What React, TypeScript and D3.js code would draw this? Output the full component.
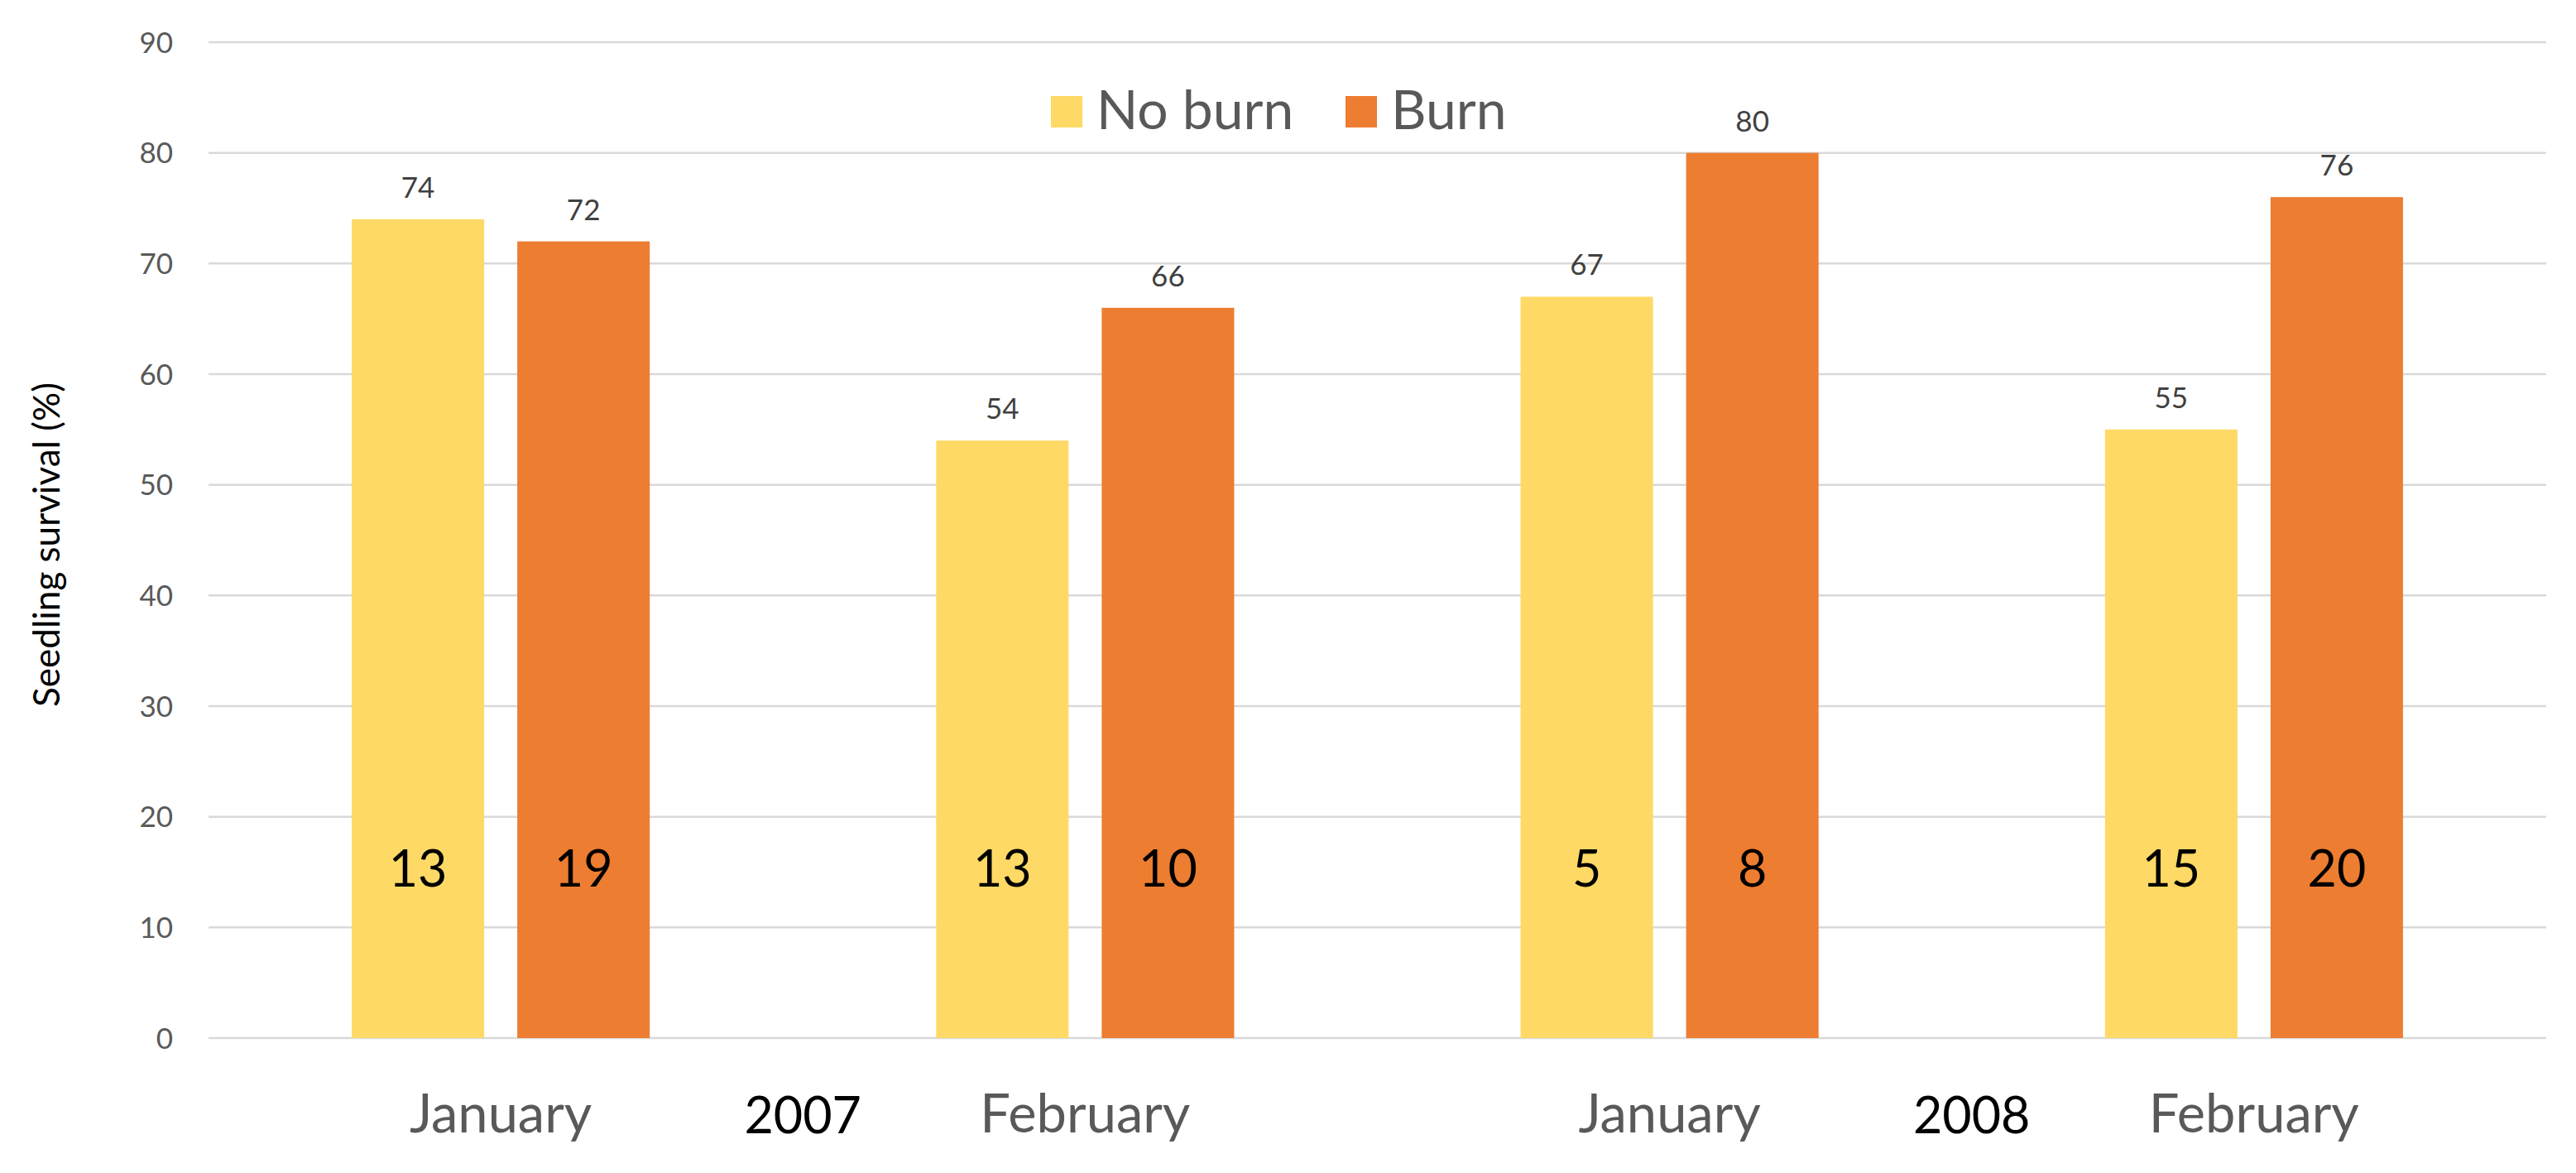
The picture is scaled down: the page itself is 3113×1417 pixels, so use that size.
import React, { useEffect, useRef } from 'react';
import * as d3 from 'd3';

const categories = ['Jan 2007', 'Feb 2007', 'Jan 2008', 'Feb 2008'];
const monthLabels = ['January', 'February', 'January', 'February'];
const years = ['2007', '2008'];
const seriesNames = ['No burn', 'Burn'];
const noBurn = [74, 54, 67, 55];
const burn = [72, 66, 80, 76];
// sample sizes written inside the bars
const noBurnN = [13, 13, 5, 15];
const burnN = [19, 10, 8, 20];
const yTicks = [0, 10, 20, 30, 40, 50, 60, 70, 80, 90];

const colors = ['#FFD966', '#ED7D31'];
const W = 3113;
const H = 1417;
const font = 'Lato, "Open Sans", sans-serif';

export default function App() {
  const ref = useRef<SVGSVGElement>(null);

  useEffect(() => {
    const svg = d3.select(ref.current);
    svg.selectAll('*').remove();

    const left = 252, right = 3077, top = 51, bottom = 1254;
    const y = d3.scaleLinear().domain([0, 90]).range([bottom, top]);
    const x = d3.scaleBand().domain(categories).range([left, right]).paddingInner(0).paddingOuter(0);
    const xs = d3.scaleBand().domain(seriesNames).range([0, x.bandwidth()]).paddingInner(0.2).paddingOuter(0.865);

    // gridlines
    svg.append('g')
      .selectAll('line')
      .data(yTicks)
      .enter()
      .append('line')
      .attr('x1', left)
      .attr('x2', right)
      .attr('y1', d => y(d))
      .attr('y2', d => y(d))
      .attr('stroke', '#D9D9D9')
      .attr('stroke-width', 2.5);

    // y tick labels
    svg.append('g')
      .selectAll('text')
      .data(yTicks)
      .enter()
      .append('text')
      .attr('x', 209)
      .attr('y', d => y(d))
      .attr('dy', '0.36em')
      .attr('text-anchor', 'end')
      .style('font-family', font)
      .style('font-size', '35px')
      .style('fill', '#595959')
      .text(d => d);

    // y title
    svg.append('text')
      .attr('transform', 'translate(72,658) rotate(-90)')
      .attr('text-anchor', 'middle')
      .style('font-family', font)
      .style('font-size', '44px')
      .style('fill', '#000')
      .text('Seedling survival (%)');

    const rows = categories.map((c, i) => [
      { cat: c, s: seriesNames[0], v: noBurn[i], n: noBurnN[i] },
      { cat: c, s: seriesNames[1], v: burn[i], n: burnN[i] },
    ]).flat();

    const bars = svg.append('g');
    bars.selectAll('rect')
      .data(rows)
      .enter()
      .append('rect')
      .attr('x', d => (x(d.cat) as number) + (xs(d.s) as number))
      .attr('y', d => y(d.v))
      .attr('width', xs.bandwidth())
      .attr('height', d => y(0) - y(d.v))
      .attr('fill', d => colors[seriesNames.indexOf(d.s)]);

    // value labels above bars
    bars.selectAll('text.val')
      .data(rows)
      .enter()
      .append('text')
      .attr('class', 'val')
      .attr('x', d => (x(d.cat) as number) + (xs(d.s) as number) + xs.bandwidth() / 2)
      .attr('y', d => y(d.v) - 26)
      .attr('text-anchor', 'middle')
      .style('font-family', font)
      .style('font-size', '35px')
      .style('fill', '#404040')
      .text(d => d.v);

    // counts inside bars
    bars.selectAll('text.n')
      .data(rows)
      .enter()
      .append('text')
      .attr('class', 'n')
      .attr('x', d => (x(d.cat) as number) + (xs(d.s) as number) + xs.bandwidth() / 2)
      .attr('y', y(15.3))
      .attr('dy', '0.36em')
      .attr('text-anchor', 'middle')
      .style('font-family', font)
      .style('font-size', '61px')
      .style('fill', '#000')
      .text(d => d.n);

    // month labels
    svg.append('g')
      .selectAll('text')
      .data(categories)
      .enter()
      .append('text')
      .attr('x', d => (x(d) as number) + x.bandwidth() / 2)
      .attr('y', 1368)
      .attr('text-anchor', 'middle')
      .style('font-family', font)
      .style('font-size', '65px')
      .style('fill', '#595959')
      .text((d, i) => monthLabels[i]);

    // year labels between the two months of each year
    svg.append('g')
      .selectAll('text')
      .data(years)
      .enter()
      .append('text')
      .attr('x', (d, i) => (x(categories[i * 2 + 1]) as number) + 12)
      .attr('y', 1369)
      .attr('text-anchor', 'middle')
      .style('font-family', font)
      .style('font-size', '61px')
      .style('fill', '#000')
      .text(d => d);

    // legend
    const lg = svg.append('g').attr('transform', 'translate(1270,0)');
    const offsets = [0, 356];
    seriesNames.forEach((name, i) => {
      lg.append('rect')
        .attr('x', offsets[i])
        .attr('y', 116)
        .attr('width', 38)
        .attr('height', 38)
        .attr('fill', colors[i]);
      lg.append('text')
        .attr('x', offsets[i] + 55)
        .attr('y', 156)
        .style('font-family', font)
        .style('font-size', '66px')
        .style('fill', '#595959')
        .text(name);
    });
  }, []);

  return (
    <div style={{ position: 'absolute', left: 0, top: 0 }}>
      <svg ref={ref} width={W} height={H} style={{ display: 'block', background: '#fff' }} />
    </div>
  );
}
